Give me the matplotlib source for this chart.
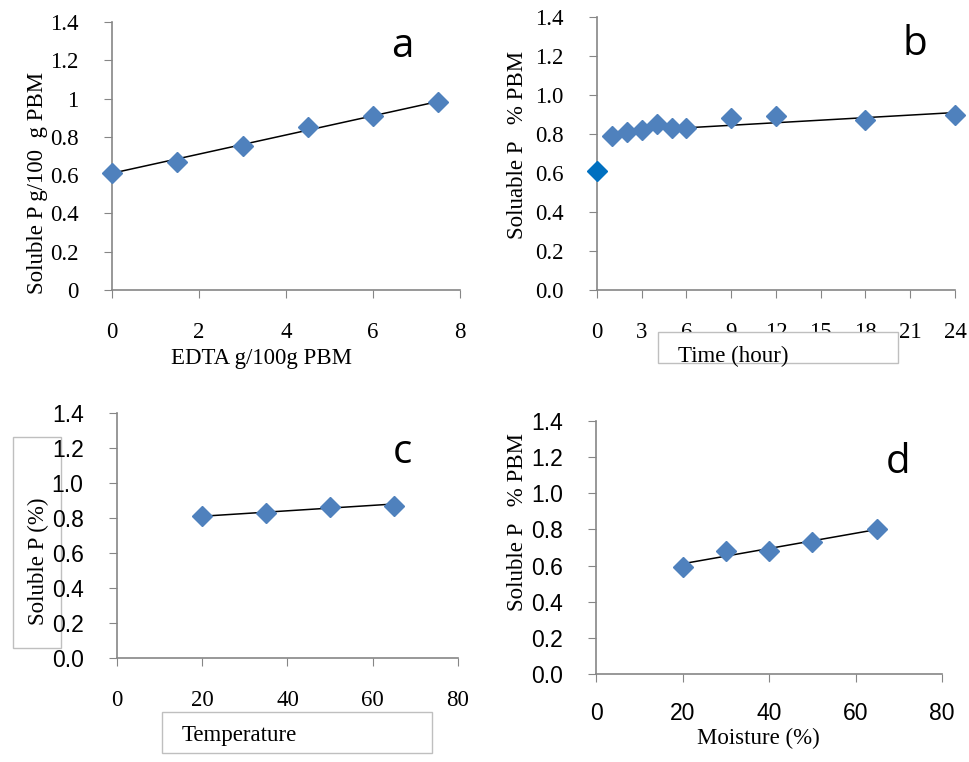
import matplotlib
matplotlib.use("Agg")
import matplotlib.pyplot as plt
from matplotlib.patches import Rectangle

# panel a: EDTA dose
edta_x = [0, 1.5, 3, 4.5, 6, 7.5]
edta_y = [0.61, 0.67, 0.75, 0.85, 0.91, 0.98]
edta_fit = [0.61, 0.985]

# panel b: time
time_x = [0, 1, 2, 3, 4, 5, 6, 9, 12, 18, 24]
time_y = [0.61, 0.79, 0.81, 0.82, 0.85, 0.83, 0.83, 0.88, 0.89, 0.87, 0.90]
time_fit_x = [1, 24]
time_fit_y = [0.81, 0.91]

# panel c: temperature
temp_x = [20, 35, 50, 65]
temp_y = [0.81, 0.83, 0.86, 0.87]
temp_fit = [0.81, 0.88]

# panel d: moisture
moist_x = [20, 30, 40, 50, 65]
moist_y = [0.59, 0.68, 0.68, 0.73, 0.80]
moist_fit = [0.61, 0.80]

SERIF = "Liberation Serif"
SANS = "Liberation Sans"
BLUE = "#4F81BD"
GREY = "#868686"
FS = 16.5

fig = plt.figure(figsize=(9.69, 7.62), dpi=100)


def style_axes(ax, xlim, xticks, yticks, xfont, yfont, yfmt):
    ax.set_xlim(xlim)
    ax.set_ylim(0, 1.4)
    ax.set_xticks(xticks)
    ax.set_yticks(yticks)
    ax.set_yticklabels([yfmt.format(v) for v in yticks], family=yfont, fontsize=FS)
    ax.set_xticklabels([str(v) for v in xticks], family=xfont, fontsize=FS)
    for s in ["top", "right"]:
        ax.spines[s].set_visible(False)
    for s in ["left", "bottom"]:
        ax.spines[s].set_color(GREY)
        ax.spines[s].set_linewidth(1.2)
    ax.tick_params(axis="x", direction="out", length=6, color=GREY, pad=17)
    ax.tick_params(axis="y", direction="out", length=6, color=GREY, pad=18)
    ax.patch.set_alpha(0)


def add_points(ax, x, y, fx, fy):
    ax.plot(fx, fy, color="black", lw=1.1, zorder=2)
    ax.plot(x, y, "D", color=BLUE, ms=10.5, mec=BLUE, ls="none", zorder=3, clip_on=False)


yt = [0, 0.2, 0.4, 0.6, 0.8, 1.0, 1.2, 1.4]

# a
ax_a = fig.add_axes([0.1156, 0.6194, 0.3591, 0.3517])
style_axes(ax_a, (0, 8), [0, 2, 4, 6, 8], yt, SERIF, SERIF, "{:g}")
add_points(ax_a, edta_x, edta_y, [edta_x[0], edta_x[-1]], edta_fit)
ax_a.set_xlabel("EDTA g/100g PBM", family=SERIF, fontsize=FS)
ax_a.xaxis.set_label_coords(0.43, -0.254)
ax_a.xaxis.label.set_va("center")
ax_a.set_ylabel("Soluble P g/100  g PBM", family=SERIF, fontsize=FS)
ax_a.yaxis.set_label_coords(-0.2155, 0.40)
ax_a.yaxis.label.set_va("center")
fig.text(402 / 969, 1 - 47 / 762, "a", family="Open Sans",
         fontsize=29, ha="center", va="center")

# b
ax_b = fig.add_axes([0.6161, 0.6194, 0.3694, 0.3583])
style_axes(ax_b, (0, 24), list(range(0, 25, 3)), yt, SERIF, SERIF, "{:.1f}")
ax_b.plot(time_fit_x, time_fit_y, color="black", lw=1.1, zorder=2)
ax_b.plot(time_x[1:], time_y[1:], "D", color=BLUE, ms=10.5, ls="none", zorder=3, clip_on=False)
ax_b.plot(time_x[:1], time_y[:1], "D", color="#0070C0", ms=10.5, ls="none", zorder=3, clip_on=False)
ax_b.set_ylabel("Soluable P   % PBM", family=SERIF, fontsize=FS)
ax_b.yaxis.set_label_coords(-0.223, 0.53)
ax_b.yaxis.label.set_va("center")
fig.patches.append(Rectangle((658 / 969, 1 - 363 / 762), 240 / 969, 31 / 762,
                             transform=fig.transFigure, facecolor="white",
                             edgecolor="#BFBFBF", lw=1, zorder=5))
fig.text(678 / 969, 1 - 356 / 762, "Time (hour)", family=SERIF, fontsize=FS,
         ha="left", va="center", zorder=6)
fig.text(915 / 969, 1 - 45 / 762, "b", family="Open Sans", fontsize=29,
         ha="center", va="center")

# c
ax_c = fig.add_axes([0.1207, 0.1365, 0.3519, 0.3215])
style_axes(ax_c, (0, 80), [0, 20, 40, 60, 80], yt, SERIF, SANS, "{:.1f}")
add_points(ax_c, temp_x, temp_y, [temp_x[0], temp_x[-1]], temp_fit)
fig.patches.append(Rectangle((13 / 969, 1 - 648 / 762), 48 / 969, 211 / 762,
                             transform=fig.transFigure, facecolor="white",
                             edgecolor="#BFBFBF", lw=1, zorder=-1))
fig.text(38 / 969, 1 - 561 / 762, "Soluble P (%)", family=SERIF, fontsize=FS,
         rotation=90, ha="center", va="center", zorder=6)
fig.patches.append(Rectangle((162 / 969, 1 - 753 / 762), 270 / 969, 41 / 762,
                             transform=fig.transFigure, facecolor="white",
                             edgecolor="#BFBFBF", lw=1, zorder=5))
fig.text(182 / 969, 1 - 736 / 762, "Temperature", family=SERIF, fontsize=FS,
         ha="left", va="center", zorder=6)
fig.text(402 / 969, 1 - 453 / 762, "c", family="Open Sans", fontsize=29,
         ha="center", va="center")

# d
ax_d = fig.add_axes([0.6151, 0.1155, 0.3571, 0.332])
style_axes(ax_d, (0, 80), [0, 20, 40, 60, 80], yt, SANS, SANS, "{:.1f}")
ax_d.tick_params(axis="x", pad=14)
add_points(ax_d, moist_x, moist_y, [moist_x[0], moist_x[-1]], moist_fit)
ax_d.set_xlabel("Moisture (%)", family=SERIF, fontsize=FS)
ax_d.xaxis.set_label_coords(0.47, -0.253)
ax_d.xaxis.label.set_va("center")
ax_d.set_ylabel("Soluble P   % PBM", family=SERIF, fontsize=FS)
ax_d.yaxis.set_label_coords(-0.228, 0.60)
ax_d.yaxis.label.set_va("center")
fig.text(898 / 969, 1 - 463 / 762, "d", family="Open Sans", fontsize=29,
         ha="center", va="center")

fig.savefig("out.png", dpi=100)
